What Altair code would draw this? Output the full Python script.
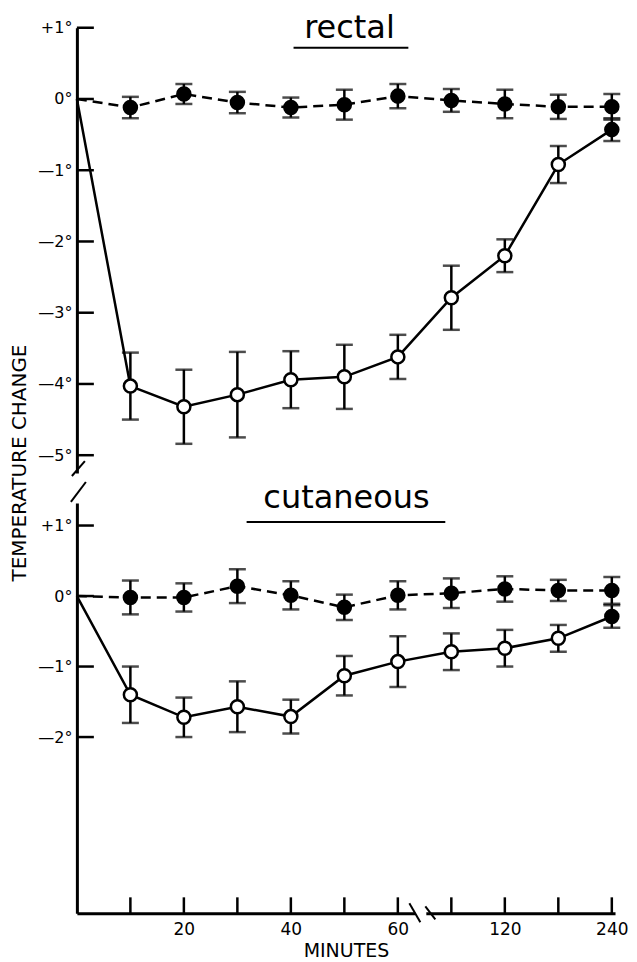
import altair as alt
import pandas as pd

# ---------------- data ----------------
minutes = [10, 20, 30, 40, 50, 60, 90, 120, 180, 240]
x_label_minutes = [20, 40, 60, 120, 240]

rectal_control = [-0.12, 0.07, -0.05, -0.12, -0.08, 0.04, -0.02, -0.07, -0.11, -0.11]
rectal_control_se = [0.15, 0.14, 0.15, 0.14, 0.21, 0.17, 0.16, 0.20, 0.17, 0.18]
rectal_cold = [-4.03, -4.32, -4.15, -3.94, -3.90, -3.62, -2.79, -2.20, -0.92, -0.43]
rectal_cold_se = [0.47, 0.52, 0.60, 0.40, 0.45, 0.31, 0.45, 0.23, 0.26, 0.16]

cut_control = [-0.02, -0.02, 0.14, 0.01, -0.16, 0.01, 0.04, 0.10, 0.08, 0.08]
cut_control_se = [0.24, 0.20, 0.24, 0.20, 0.18, 0.20, 0.21, 0.18, 0.15, 0.19]
cut_cold = [-1.40, -1.72, -1.57, -1.71, -1.13, -0.93, -0.79, -0.74, -0.60, -0.29]
cut_cold_se = [0.40, 0.28, 0.36, 0.24, 0.28, 0.36, 0.26, 0.26, 0.19, 0.16]

panel_titles = ["rectal", "cutaneous"]
y_title = ["TEMPERATURE CHANGE"]
x_title = "MINUTES"
rectal_ticks = [1, 0, -1, -2, -3, -4, -5]
cut_ticks = [1, 0, -1, -2]

# ---------------- layout constants ----------------
W = 539
H_TOP = 446
H_BOT = 411
XMAX = 10.06
FONT = "DejaVu Sans"
LW = 2.5

label_pos = [minutes.index(m) + 1 for m in x_label_minutes]
x_label_expr = ""
for p, m in zip(label_pos, x_label_minutes):
    x_label_expr += f"datum.value == {p} ? '{m}' : "
x_label_expr += "''"

y_label_expr = ("datum.value > 0 ? '+' + datum.value + '°' : "
                "(datum.value == 0 ? '0°' : '—' + abs(datum.value) + '°')")


def points_df(ctrl, ctrl_se, cold, cold_se):
    rows = []
    for i in range(len(minutes)):
        p = i + 1
        rows.append(dict(pos=p, val=ctrl[i], lo=ctrl[i] - ctrl_se[i],
                         hi=ctrl[i] + ctrl_se[i], series="control", filled=True))
        rows.append(dict(pos=p, val=cold[i], lo=cold[i] - cold_se[i],
                         hi=cold[i] + cold_se[i], series="cold",
                         filled=(i == len(minutes) - 1)))
    return pd.DataFrame(rows)


def lines_df(ctrl, cold):
    rows = [dict(pos=0, val=0.0, series="control"), dict(pos=0, val=0.0, series="cold")]
    for i in range(len(minutes)):
        rows.append(dict(pos=i + 1, val=ctrl[i], series="control"))
        rows.append(dict(pos=i + 1, val=cold[i], series="cold"))
    return pd.DataFrame(rows)


def panel(ctrl, ctrl_se, cold, cold_se, domain, height, ticks, title,
          title_xy, ul, show_x, extra=None):
    pts = points_df(ctrl, ctrl_se, cold, cold_se)
    lns = lines_df(ctrl, cold)

    if show_x:
        xaxis = alt.Axis(values=list(range(1, 11)),
                         ticks=False, grid=False, domainWidth=3, domainColor="black",
                         labelExpr=x_label_expr, labelFontSize=17, labelPadding=8,
                         labelColor="black", labelFont=FONT, title=x_title,
                         titleFontSize=19, titleFontWeight="normal", titlePadding=4,
                         titleColor="black", titleFont=FONT)
    else:
        xaxis = None
    xscale = alt.Scale(domain=[0, XMAX], nice=False, zero=False)
    yscale = alt.Scale(domain=domain, nice=False, zero=False)
    yaxis = alt.Axis(values=ticks, ticks=False, grid=False, domainWidth=3,
                     domainColor="black", labelExpr=y_label_expr, labelFontSize=16,
                     labelPadding=5, labelColor="black", labelFont=FONT, title=None)

    def X(f):
        return alt.X(f, type="quantitative", scale=xscale, axis=xaxis)

    def Y(f):
        return alt.Y(f, type="quantitative", scale=yscale, axis=yaxis)

    base_l = alt.Chart(lns)
    base_p = alt.Chart(pts)

    cold_line = base_l.transform_filter("datum.series == 'cold'").mark_line(
        color="black", strokeWidth=LW).encode(x=X("pos"), y=Y("val"), order="pos:Q")
    ctrl_line = base_l.transform_filter("datum.series == 'control'").mark_line(
        color="black", strokeWidth=LW, strokeDash=[10, 6]).encode(
        x=X("pos"), y=Y("val"), order="pos:Q")

    err = base_p.mark_rule(color="black", strokeWidth=LW).encode(
        x=X("pos"), y=Y("lo"), y2="hi")
    cap_lo = base_p.mark_tick(color="black", orient="horizontal", size=17,
                              thickness=LW).encode(x=X("pos"), y=Y("lo"))
    cap_hi = base_p.mark_tick(color="black", orient="horizontal", size=17,
                              thickness=LW).encode(x=X("pos"), y=Y("hi"))
    dots = base_p.mark_point(shape="circle", size=170, strokeWidth=LW, stroke="black",
                             opacity=1, filled=False).encode(
        x=X("pos"), y=Y("val"),
        fill=alt.condition("datum.filled", alt.value("black"), alt.value("white")))

    # inward tick marks on the y axis
    ytick_df = pd.DataFrame({"v": ticks})
    yticks = alt.Chart(ytick_df).mark_rule(color="black", strokeWidth=2.5).encode(
        y=Y("v"), x=alt.value(0), x2=alt.value(17))

    layers = [cold_line, ctrl_line, err, cap_lo, cap_hi, dots, yticks]

    if show_x:
        xtick_df = pd.DataFrame({"p": list(range(1, len(minutes) + 1))})
        xticks = alt.Chart(xtick_df).mark_rule(color="black", strokeWidth=2.5).encode(
            x=X("p"), y=alt.value(height), y2=alt.value(height - 16))
        layers.append(xticks)
        gap = alt.Chart(xtick_df.head(1)).mark_rule(color="white", strokeWidth=7).encode(
            x=alt.value(339), x2=alt.value(350), y=alt.value(height), y2=alt.value(height))
        s1 = alt.Chart(xtick_df.head(1)).mark_rule(color="black", strokeWidth=2).encode(
            x=alt.value(333), x2=alt.value(344), y=alt.value(height - 10), y2=alt.value(height + 9))
        s2 = alt.Chart(xtick_df.head(1)).mark_rule(color="black", strokeWidth=2).encode(
            x=alt.value(349), x2=alt.value(359), y=alt.value(height - 7), y2=alt.value(height + 6))
        layers += [gap, s1, s2]

    # panel title with underline
    tdf = pd.DataFrame({"t": [title]})
    ttext = alt.Chart(tdf).mark_text(fontSize=32, font=FONT, align="center",
                                     baseline="alphabetic", color="black").encode(
        text="t:N", x=alt.value(title_xy[0]), y=alt.value(title_xy[1]))
    uline = alt.Chart(tdf).mark_rule(color="black", strokeWidth=2).encode(
        x=alt.value(ul[0]), x2=alt.value(ul[1]), y=alt.value(ul[2]), y2=alt.value(ul[2]))
    layers += [ttext, uline]

    if extra:
        layers += extra

    return alt.layer(*layers).properties(width=W, height=height)


# y-axis break slashes and overall y title (decorations)
one = pd.DataFrame({"t": y_title})
top_slash = alt.Chart(one).mark_rule(color="black", strokeWidth=2).encode(
    x=alt.value(-5), x2=alt.value(8), y=alt.value(H_TOP + 3), y2=alt.value(H_TOP - 12))
bot_slash = alt.Chart(one).mark_rule(color="black", strokeWidth=2).encode(
    x=alt.value(-6), x2=alt.value(9), y=alt.value(-1), y2=alt.value(-21))
ytitle = alt.Chart(one).mark_text(fontSize=20, font=FONT, angle=270, align="center",
                                  baseline="middle", color="black").encode(
    text="t:N", x=alt.value(-57), y=alt.value(H_TOP - 10))

top = panel(rectal_control, rectal_control_se, rectal_cold, rectal_cold_se,
            [-5.25, 1], H_TOP, rectal_ticks, panel_titles[0],
            (273, 10), (217, 332, 20), False, extra=[top_slash, ytitle])
bot = panel(cut_control, cut_control_se, cut_cold, cut_cold_se,
            [-4.5, 1.32], H_BOT, cut_ticks, panel_titles[1],
            (270, 5), (170, 369, 19), True, extra=[bot_slash])

chart = (alt.vconcat(top, bot, spacing=30, bounds="flush")
         .configure(font=FONT, padding={"top": 3, "left": 2, "right": 0, "bottom": 0})
         .configure_view(stroke=None)
         .configure_axis(grid=False))

chart.save("out.html", embed_options={"renderer": "svg", "actions": False})
